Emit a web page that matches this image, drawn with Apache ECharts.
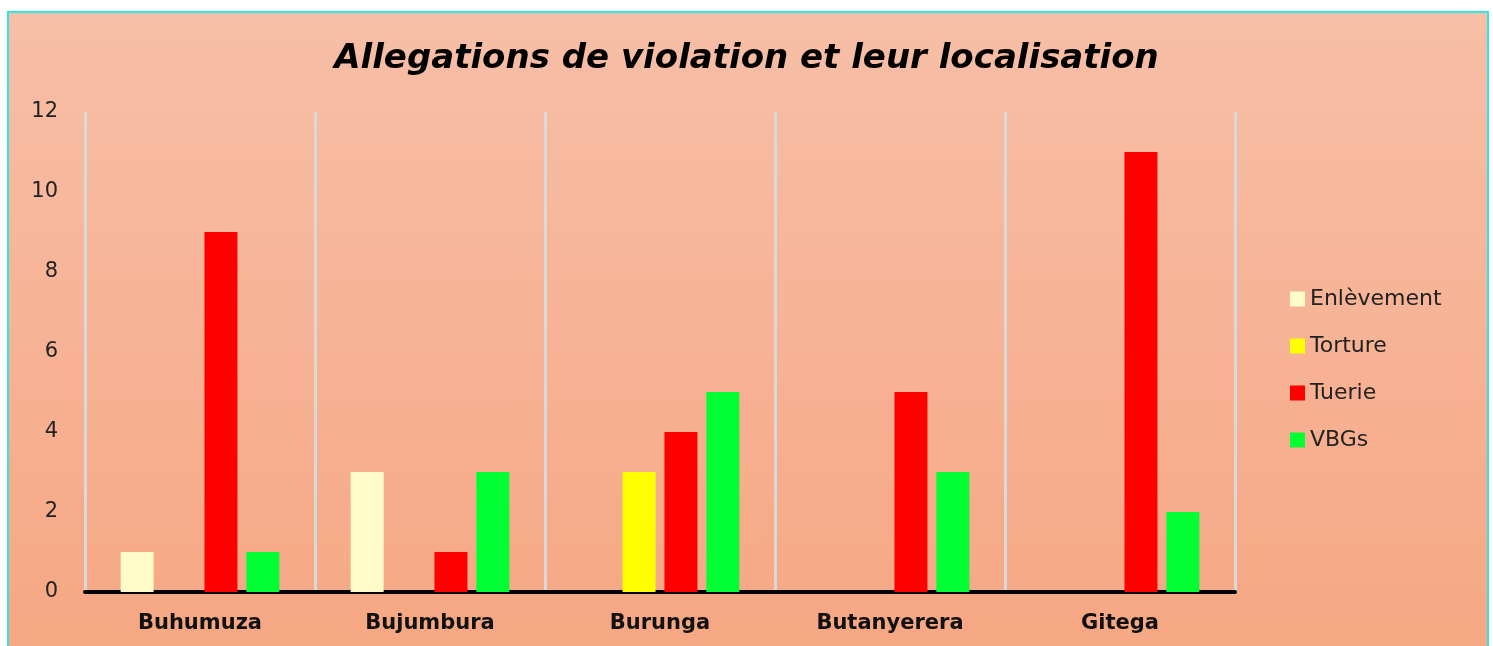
<!DOCTYPE html>
<html>
<head>
<meta charset="utf-8">
<script src="https://cdn.jsdelivr.net/npm/echarts@6/dist/echarts.min.js"></script>
<style>
  html,body{margin:0;padding:0;background:#fff;overflow:hidden;}
  #bg{position:absolute;left:7px;top:11px;width:1478px;height:660px;
      border:2px solid #2ee6e6;border-bottom:none;
      background:linear-gradient(#f7bfa7,#f6a682);}
  #main{position:absolute;left:0;top:0;width:1493px;height:646px;}
</style>
</head>
<body>
<div id="bg"></div>
<div id="main"></div>
<script>
const categories=['Buhumuza','Bujumbura','Burunga','Butanyerera','Gitega'];
const enlevement=[1,3,0,0,0];
const torture=[0,0,3,0,0];
const tuerie=[9,1,4,5,11];
const vbgs=[1,3,5,3,2];
const yTicks=[0,2,4,6,8,10,12];

const chart=echarts.init(document.getElementById('main'));
const font='"DejaVu Sans", sans-serif';

const bar=(name,data,color)=>({
    name:name,
    type:'bar',
    data:data,
    barGap:'27%',
    barCategoryGap:'31%',
    itemStyle:{color:color},
    emphasis:{disabled:true}
});

chart.setOption({
    backgroundColor:'transparent',
    animation:false,
    title:{
        text:'Allegations de violation et leur localisation',
        left:'center',
        top:37,
        textStyle:{fontFamily:font,fontSize:34,fontWeight:'bold',fontStyle:'italic',color:'#000'}
    },
    legend:{
        orient:'vertical',
        left:1285,
        top:283,
        itemWidth:15,
        itemHeight:15,
        itemGap:25,
        icon:'rect',
        textStyle:{fontFamily:font,fontSize:22,color:'#222'}
    },
    grid:{left:85,right:258,top:112,bottom:54,containLabel:false},
    xAxis:{
        type:'category',
        data:categories,
        axisLine:{lineStyle:{color:'#000',width:4}},
        axisTick:{show:false},
        splitLine:{show:true,lineStyle:{color:'#d9d9d9',width:3}},
        axisLabel:{fontFamily:font,fontSize:21,fontWeight:'bold',color:'#111',margin:21}
    },
    yAxis:{
        type:'value',
        min:yTicks[0],
        max:yTicks[yTicks.length-1],
        interval:2,
        axisLine:{show:false},
        axisTick:{show:false},
        splitLine:{show:false},
        axisLabel:{fontFamily:font,fontSize:21,color:'#222',margin:27}
    },
    series:[
        bar('Enlèvement',enlevement,'#fffcc8'),
        bar('Torture',torture,'#ffff00'),
        bar('Tuerie',tuerie,'#ff0000'),
        bar('VBGs',vbgs,'#00ff33')
    ]
});
</script>
</body>
</html>
